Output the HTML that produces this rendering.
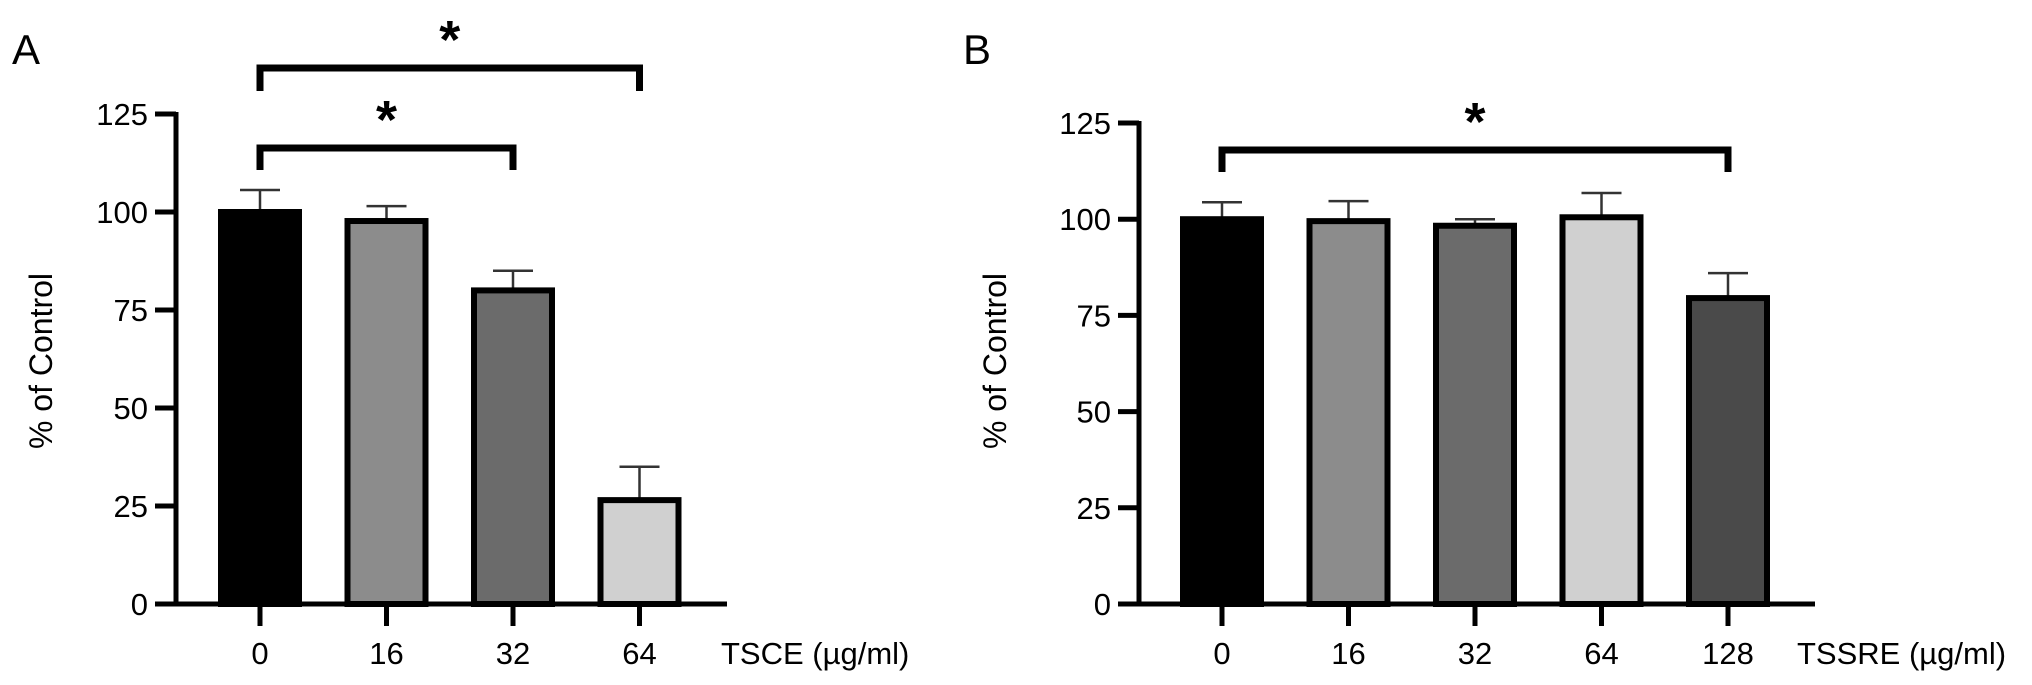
<!DOCTYPE html>
<html><head><meta charset="utf-8"><style>
html,body{margin:0;padding:0;background:#fff;}
svg{display:block;font-family:"Liberation Sans",Arial,sans-serif;}
</style></head><body>
<svg id="chart" width="2032" height="685" viewBox="0 0 2032 685" xmlns="http://www.w3.org/2000/svg">
<g id="panelA"></g>
<g id="panelB"></g>
</svg>
<script>
// Panel A data
const catsA = ["0","16","32","64"];
const valsA = [100, 97.7, 80, 26.5];
const errsA = [105.6, 101.5, 85, 35];
const fillsA = ["#000000","#8c8c8c","#6b6b6b","#d0d0d0"];
// Panel B data
const catsB = ["0","16","32","64","128"];
const valsB = [100, 99.5, 98.3, 100.5, 79.5];
const errsB = [104.4, 104.7, 100, 106.8, 86];
const fillsB = ["#000000","#8c8c8c","#6b6b6b","#d0d0d0","#4a4a4a"];
const yTicks = [0,25,50,75,100,125];

const NS="http://www.w3.org/2000/svg";
function mk(parent, tag, attrs, text){
  const e=document.createElementNS(NS,tag);
  for(const k in attrs) e.setAttribute(k,attrs[k]);
  if(text!==undefined) e.textContent=text;
  parent.appendChild(e); return e;
}

function panel(g, cfg, cats, vals, errs, fills){
  const y = v => cfg.y0 - v*(cfg.y0-cfg.y125)/125;
  const x = i => cfg.x0 + i*cfg.step;
  const L=mk(g,"text",{x:cfg.letterX,y:64,"font-size":42,fill:"#000"},cfg.letter);
  
  
  const t=mk(g,"text",{x:0,y:0,"font-size":32,fill:"#000","text-anchor":"middle",transform:`translate(${cfg.titleX},361) rotate(-90)`},"% of Control");
  
  
  cats.forEach((c,i)=>{
    const cx=x(i), top=y(vals[i]);
    const el=mk(g,"line",{x1:cx,x2:cx,y1:top,y2:y(errs[i]),stroke:"#333","stroke-width":2.5});
    
    
    const cap=mk(g,"line",{x1:cx-20,x2:cx+20,y1:y(errs[i]),y2:y(errs[i]),stroke:"#333","stroke-width":2.5});
    
    
    const r=mk(g,"rect",{x:cx-39,y:top,width:78,height:cfg.y0-top,fill:fills[i],stroke:"#000","stroke-width":6});
    
    
    const tk=mk(g,"line",{x1:cx,x2:cx,y1:cfg.y0,y2:cfg.y0+22,stroke:"#000","stroke-width":5});
    
    
    const lb=mk(g,"text",{x:cx,y:664,"font-size":31,"text-anchor":"middle",fill:"#000"},c);
    
    
  });
  const ya=mk(g,"line",{x1:cfg.axisX,x2:cfg.axisX,y1:y(125)-2,y2:cfg.y0+2,stroke:"#000","stroke-width":5});
  
  
  const xa=mk(g,"line",{x1:cfg.axisX-21,x2:cfg.xEnd,y1:cfg.y0,y2:cfg.y0,stroke:"#000","stroke-width":5});
  
  
  yTicks.forEach(v=>{
    const tk=mk(g,"line",{x1:cfg.axisX-21,x2:cfg.axisX,y1:y(v),y2:y(v),stroke:"#000","stroke-width":5});
    
    
    const lb=mk(g,"text",{x:cfg.axisX-28,y:y(v)+11,"font-size":31,"text-anchor":"end",fill:"#000"},String(v));
    
    
  });
  const xt=mk(g,"text",{x:cfg.xTitleX,y:664,"font-size":31,fill:"#000"},cfg.xTitle);
  
  
  cfg.brackets.forEach(b=>{
    const p=mk(g,"path",{d:`M${x(b.a)},${b.low} V${b.y} H${x(b.b)} V${b.low}`,fill:"none",stroke:"#000","stroke-width":7});
    
    
    const s=mk(g,"text",{x:(x(b.a)+x(b.b))/2,y:b.y-10,"font-size":54,"font-weight":"bold","text-anchor":"middle",fill:"#000"},"*");
    
    
  });
}

panel(document.getElementById("panelA"),{
  letter:"A",letterX:12,titleX:52,axisX:176,y0:604,y125:114,x0:260,step:126.5,xEnd:727,
  xTitle:"TSCE (\u00b5g/ml)",xTitleX:721,
  brackets:[{a:0,b:3,y:68,low:91},{a:0,b:2,y:148,low:170}]
},catsA,valsA,errsA,fillsA);

panel(document.getElementById("panelB"),{
  letter:"B",letterX:963,titleX:1006,axisX:1139,y0:604,y125:123,x0:1222,step:126.5,xEnd:1815,
  xTitle:"TSSRE (\u00b5g/ml)",xTitleX:1797,
  brackets:[{a:0,b:4,y:150,low:172}]
},catsB,valsB,errsB,fillsB);
</script>
</body></html>
